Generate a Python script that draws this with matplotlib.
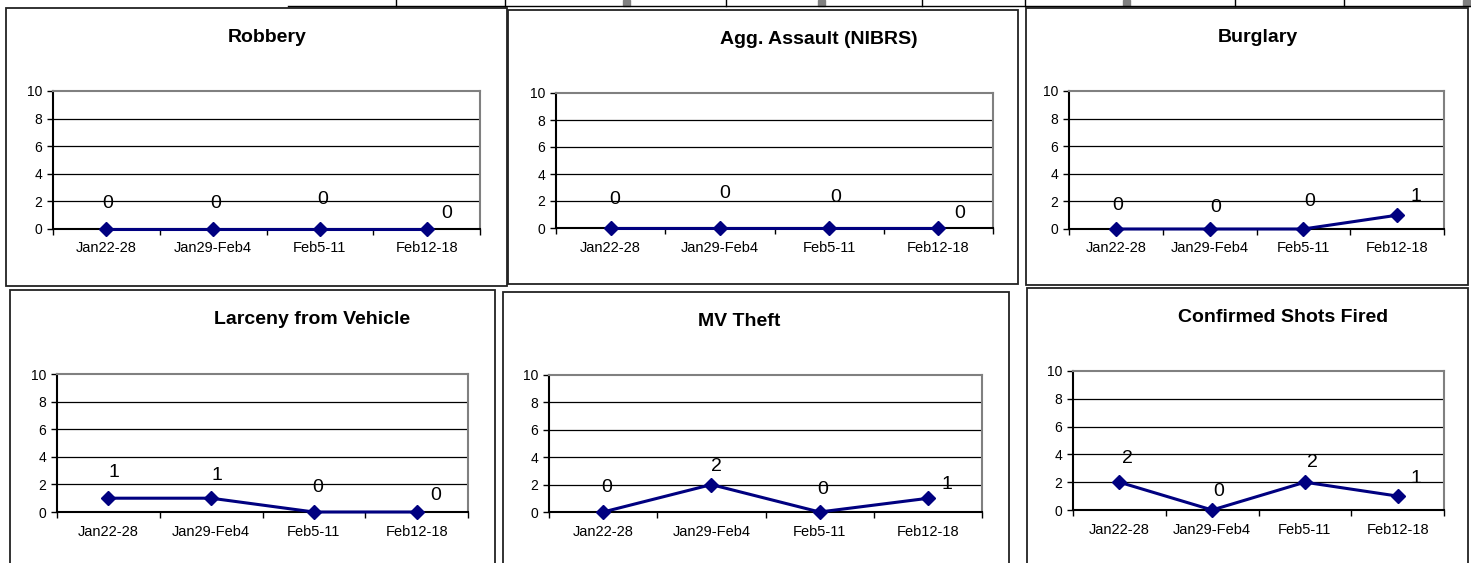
import matplotlib
matplotlib.use('Agg')
import matplotlib.pyplot as plt
from matplotlib.patches import Rectangle
from matplotlib.lines import Line2D

plt.rcParams['font.family'] = ['Liberation Sans', 'DejaVu Sans']

# data
weeks = ['Jan22-28', 'Jan29-Feb4', 'Feb5-11', 'Feb12-18']
titles = ['Robbery', 'Agg. Assault (NIBRS)', 'Burglary',
          'Larceny from Vehicle', 'MV Theft', 'Confirmed Shots Fired']
robbery = [0, 0, 0, 0]
agg_assault = [0, 0, 0, 0]
burglary = [0, 0, 0, 1]
larceny_vehicle = [1, 1, 0, 0]
mv_theft = [0, 2, 0, 1]
shots_fired = [2, 0, 2, 1]
series = [robbery, agg_assault, burglary, larceny_vehicle, mv_theft, shots_fired]
yticks = [0, 2, 4, 6, 8, 10]

W, H = 1471, 563
# layout in pixels (left, top, right, bottom)
boxes = [(6, 8, 507, 286), (508, 10, 1018, 284), (1026, 8, 1468, 285),
         (10, 290, 495, 580), (503, 292, 1009, 580), (1027, 288, 1468, 580)]
plots = [(53, 91, 480, 229), (556, 93, 993, 228), (1069, 91, 1444, 229),
         (57, 374, 468, 512), (549, 375, 982, 512), (1073, 371, 1444, 510)]
title_pos = [(267, 38), (819, 40), (1258, 38), (312, 320), (739, 321), (1283, 317)]
# data label offsets in pixels (dx, dy up)
label_off = [[(1, 26), (3, 26), (3, 30), (20, 16)],
             [(4, 29), (5, 34), (7, 31), (21, 15)],
             [(2, 23), (6, 21), (6, 27), (19, 19)],
             [(6, 26), (6, 23), (4, 25), (19, 16)],
             [(4, 24), (5, 18), (3, 22), (19, 14)],
             [(8, 24), (7, 19), (8, 20), (18, 18)]]

fig = plt.figure(figsize=(W / 100, H / 100), dpi=100)
fig.patch.set_facecolor('white')

def fx(x):
    return x / W

def fy(y):
    return 1 - y / H

# table remnants across the top
fig.add_artist(Line2D([fx(288), fx(1471)], [fy(6), fy(6)], color='black', lw=1))
for x in [396, 505, 726, 922, 1025, 1235, 1344]:
    fig.add_artist(Line2D([fx(x), fx(x)], [fy(0), fy(6)], color='black', lw=1))
for x in [626, 821, 1126, 1466]:
    fig.add_artist(Rectangle((fx(x - 3), fy(6)), 7 / W, 6 / H, color='#808080'))

for i in range(6):
    l, t, r, b = boxes[i]
    fig.add_artist(Rectangle((fx(l), fy(b)), (r - l) / W, (b - t) / H,
                             fill=False, edgecolor='#222222', lw=1.3))
    l, t, r, b = plots[i]
    ax = fig.add_axes([fx(l), fy(b), (r - l) / W, (b - t) / H])
    x = list(range(len(weeks)))
    ax.plot(x, series[i], color='#000080', lw=2.2, marker='D', markersize=7.5,
            clip_on=False, zorder=5)
    for j, v in enumerate(series[i]):
        dx, dy = label_off[i][j]
        ax.annotate(str(v), (j, v), xytext=(dx * 0.72, dy * 0.72),
                    textcoords='offset points', ha='center', va='center',
                    fontsize=14, zorder=6)
    ax.set_xlim(-0.5, 3.5)
    ax.set_ylim(0, 10)
    ax.set_yticks(yticks)
    ax.tick_params(axis='y', direction='out', length=4, width=1, labelsize=10, pad=4)
    ax.set_xticks([-0.5, 0.5, 1.5, 2.5, 3.5])
    ax.set_xticklabels([])
    ax.set_xticks(x, minor=True)
    ax.set_xticklabels(weeks, minor=True)
    ax.tick_params(axis='x', which='major', direction='out', length=4, width=1)
    ax.tick_params(axis='x', which='minor', length=0, labelsize=10.5, pad=9)
    for yv in [2, 4, 6, 8]:
        ax.axhline(yv, color='black', lw=0.9, zorder=1)
    ax.spines['left'].set_color('black')
    ax.spines['bottom'].set_color('black')
    ax.spines['top'].set_color('#808080')
    ax.spines['right'].set_color('#808080')
    for s in ax.spines.values():
        s.set_linewidth(1.5)
    ax.spines['bottom'].set_zorder(4)
    fig.text(fx(title_pos[i][0]), fy(title_pos[i][1]), titles[i], ha='center',
             va='center', fontsize=14, fontweight='bold')

fig.savefig('out.png', dpi=100)
